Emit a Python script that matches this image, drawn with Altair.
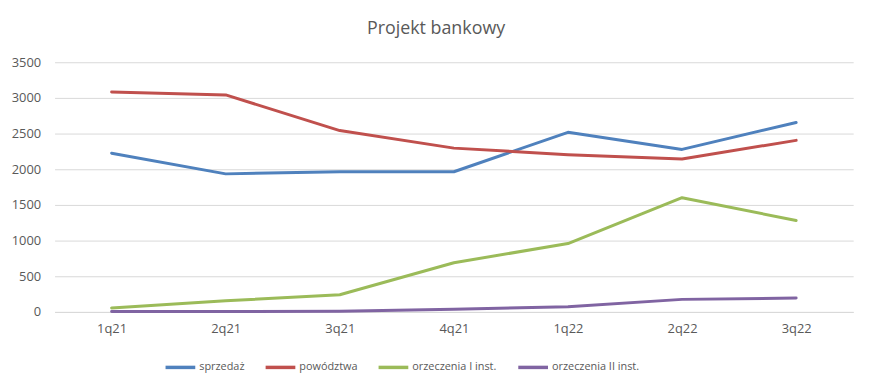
import altair as alt
import pandas as pd

quarters = ["1q21", "2q21", "3q21", "4q21", "1q22", "2q22", "3q22"]
series = ["sprzedaż", "powództwa", "orzeczenia I inst.", "orzeczenia II inst."]
sprzedaz = [2225, 1935, 1965, 1965, 2518, 2278, 2655]
powodztwa = [3083, 3042, 2542, 2296, 2204, 2143, 2405]
orzeczenia_1 = [56, 157, 240, 690, 958, 1601, 1282]
orzeczenia_2 = [5, 5, 10, 37, 74, 176, 194]
colors = ["#4F81BD", "#C0504D", "#9BBB59", "#8064A2"]

rows = []
for name, vals in zip(series, [sprzedaz, powodztwa, orzeczenia_1, orzeczenia_2]):
    for q, v in zip(quarters, vals):
        rows.append({"kwartał": q, "seria": name, "wartość": v})
df = pd.DataFrame(rows)

font = "Open Sans"
grey = "#595959"

chart = alt.Chart(df).mark_line(strokeWidth=3, strokeCap="round", strokeJoin="round").encode(
    x=alt.X("kwartał:N", sort=quarters, title=None,
            scale=alt.Scale(type="point", padding=0.5),
            axis=alt.Axis(labelAngle=0, ticks=False, domain=True, domainColor="#D9D9D9",
                          grid=False, labelPadding=11, labelFontSize=13, labelColor=grey,
                          labelFont=font)),
    y=alt.Y("wartość:Q", title=None,
            scale=alt.Scale(domain=[0, 3500]),
            axis=alt.Axis(values=[0, 500, 1000, 1500, 2000, 2500, 3000, 3500], format="d",
                          ticks=False, domain=False, gridColor="#D9D9D9", gridWidth=1,
                          labelPadding=14, labelFontSize=13, labelColor=grey, labelFont=font)),
    color=alt.Color("seria:N", sort=series,
                    scale=alt.Scale(domain=series, range=colors),
                    legend=alt.Legend(title=None, orient="none", direction="horizontal",
                                      legendX=110, legendY=291,
                                      symbolType="stroke", symbolSize=900, symbolStrokeWidth=3.5,
                                      labelFontSize=11, labelColor=grey, labelFont=font,
                                      labelOffset=2, columnPadding=14)),
).properties(
    width=806, height=252,
    title=alt.TitleParams("Projekt bankowy", fontSize=18, font=font, color=grey,
                          fontWeight="normal", anchor="middle", dx=-18, offset=18),
    autosize=alt.AutoSizeParams(type="none"),
    padding={"left": 47, "top": 53, "right": 20, "bottom": 70},
).configure_view(stroke=None)

chart.save("out.html", embed_options={"renderer": "svg", "actions": False})
